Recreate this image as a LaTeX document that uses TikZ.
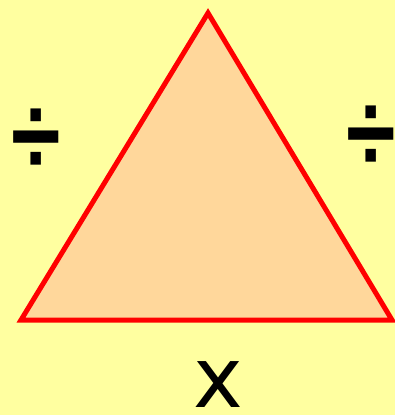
\documentclass[tikz,border=0pt]{standalone}
\usepackage{fontspec}
\usepackage{graphicx}
\newfontfamily\symfont{Liberation Sans}
\newfontfamily\timesfont{DejaVu Sans}
\newcommand{\tallsign}[1]{\scalebox{1}[1.25]{#1}}
\definecolor{paper}{RGB}{255,255,160}
\definecolor{peach}{RGB}{255,215,155}
\definecolor{edgered}{RGB}{255,0,0}

\begin{document}
\begin{tikzpicture}[x=1pt,y=-1pt,
  opsign/.style={font=\symfont\bfseries\fontsize{90}{90}\selectfont,
    text=black,inner sep=0pt,anchor=center},
  timessign/.style={font=\timesfont\fontsize{84}{84}\selectfont,
    text=black,inner sep=0pt,anchor=base},
  side/.style={draw=edgered,line width=5pt,line join=miter,fill=peach}]
\fill[paper] (0,0) rectangle (395,415);
\useasboundingbox (0,0) rectangle (395,415);

\coordinate (apex) at (208,13);
\coordinate (left) at (21,320);
\coordinate (right) at (392,320);
\draw[side] (apex)--(right)--(left)--cycle;

\node[opsign] (divleft) at (36,142) {\tallsign{÷}};
\node[opsign] (divright) at (371,139) {\tallsign{÷}};
\node[timessign] (times) at (218,407) {x};
\end{tikzpicture}
\end{document}
